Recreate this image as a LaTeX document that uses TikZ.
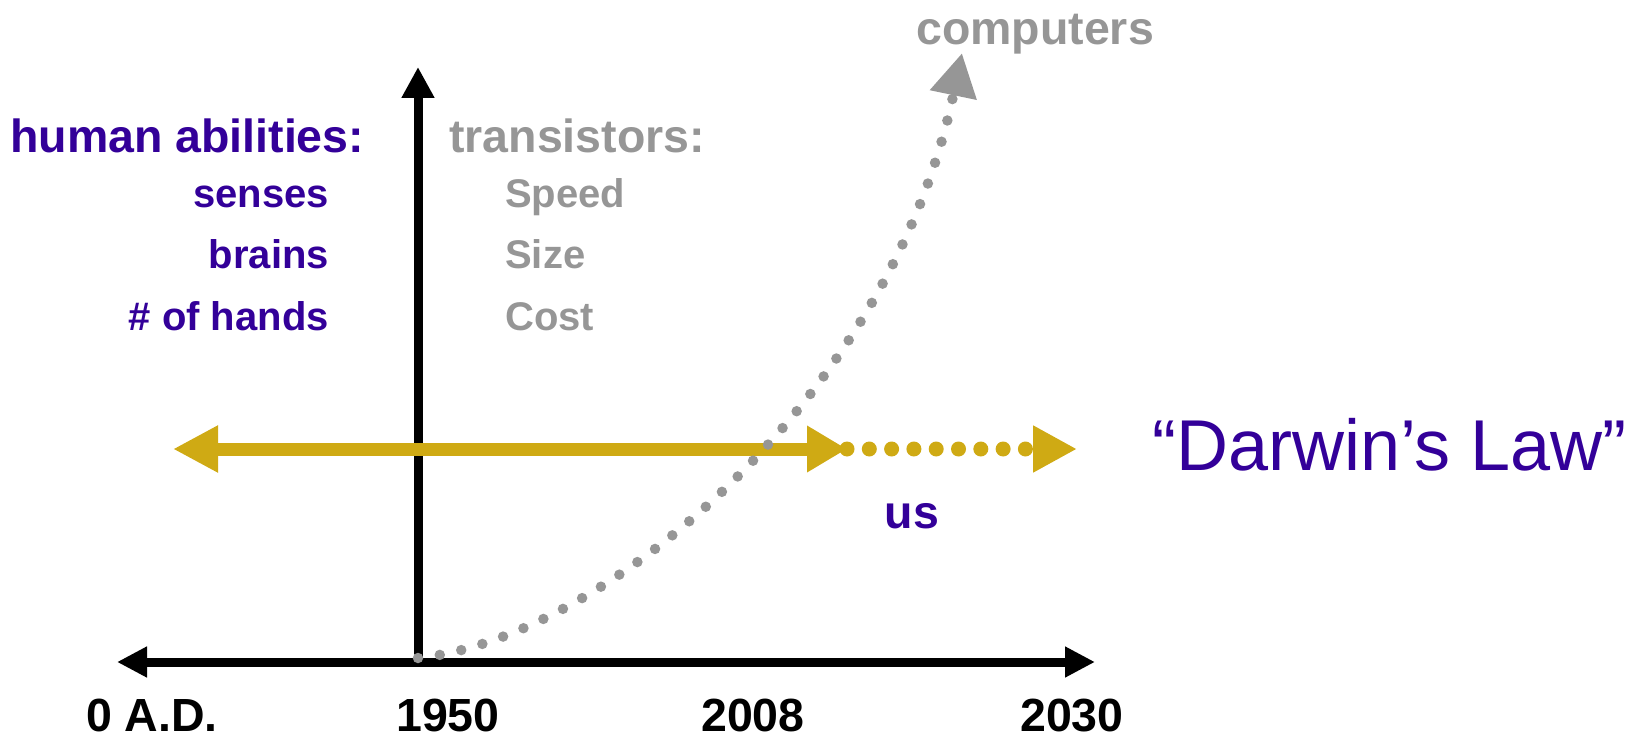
\documentclass[tikz,border=0pt]{standalone}
\usepackage{fontspec}
\setmainfont{Liberation Sans}
\usetikzlibrary{arrows.meta}
\definecolor{purp}{RGB}{51,0,153}
\definecolor{grey1}{RGB}{150,150,150}
\definecolor{gold1}{RGB}{207,170,20}
\begin{document}
\begin{tikzpicture}[x=1pt,y=-1pt,
  lbl/.style={inner sep=0pt, font=\fontsize{46.5}{50}\selectfont\bfseries},
  sub/.style={inner sep=0pt, font=\fontsize{40}{44}\selectfont\bfseries},
  blk/.style={black, line width=9pt},
  goldline/.style={gold1, line width=13pt},
  dotcurve/.style={grey1, line width=10.5pt, line cap=round, dash pattern=on 0pt off 22pt}]
\useasboundingbox (0,0) rectangle (1647,738);
% labels
\node[lbl, purp, anchor=base west] (ha) at (10,153) {human abilities:};
\node[sub, purp, anchor=base east] (se) at (329,208) {senses};
\node[sub, purp, anchor=base east] (br) at (329,269) {brains};
\node[sub, purp, anchor=base east] (hd) at (329,330) {\# of hands};
\node[lbl, grey1, anchor=base west] (tr) at (449,153) {transistors:};
\node[sub, grey1, anchor=base west] (sp) at (505,208) {Speed};
\node[sub, grey1, anchor=base west] (sz) at (505,269) {Size};
\node[sub, grey1, anchor=base west] (co) at (505,330) {Cost};
\node[lbl, grey1, anchor=base] (cp) at (1035,45) {computers};
\node[lbl, purp, anchor=base] (us) at (912,528) {us};
\node[inner sep=0pt, purp, font=\fontsize{72}{80}\selectfont, anchor=base west] (dl) at (1152,470) {“Darwin’s Law”};
\node[lbl, anchor=base] (t0) at (152,731) {0 A.D.};
\node[lbl, anchor=base] (t1) at (448,731) {1950};
\node[lbl, anchor=base] (t2) at (753,731) {2008};
\node[lbl, anchor=base] (t3) at (1072,731) {2030};
% axes
\coordinate (o) at (418,662);
\coordinate (xl) at (117,662);
\coordinate (xr) at (1095,662);
\coordinate (yt) at (418,67);
\draw[blk, -{Triangle[length=31pt,width=31pt]}] (o) -- (yt);
\draw[blk, {Triangle[length=30pt,width=29pt]}-{Triangle[length=30pt,width=29pt]}] (xl) -- (xr);
% gold arrows
\coordinate (gl) at (173,449);
\coordinate (gm) at (847,449);
\coordinate (gr) at (1077,449);
\draw[goldline, {Triangle[length=45pt,width=44pt]}-{Triangle[length=40pt,width=44pt]}] (gl) -- (gm);
\draw[goldline, line width=15pt, line cap=round, dash pattern=on 0pt off 22.3pt, -{Triangle[length=44pt,width=44pt]}] (gm) -- (gr);
% computers curve
\coordinate (cs) at (418,658);
\coordinate (ce) at (962,53);
\draw[dotcurve, -{Triangle[length=43pt,width=45pt]}] (cs) .. controls (600,640) and (890,400) .. (ce);
\end{tikzpicture}
\end{document}
